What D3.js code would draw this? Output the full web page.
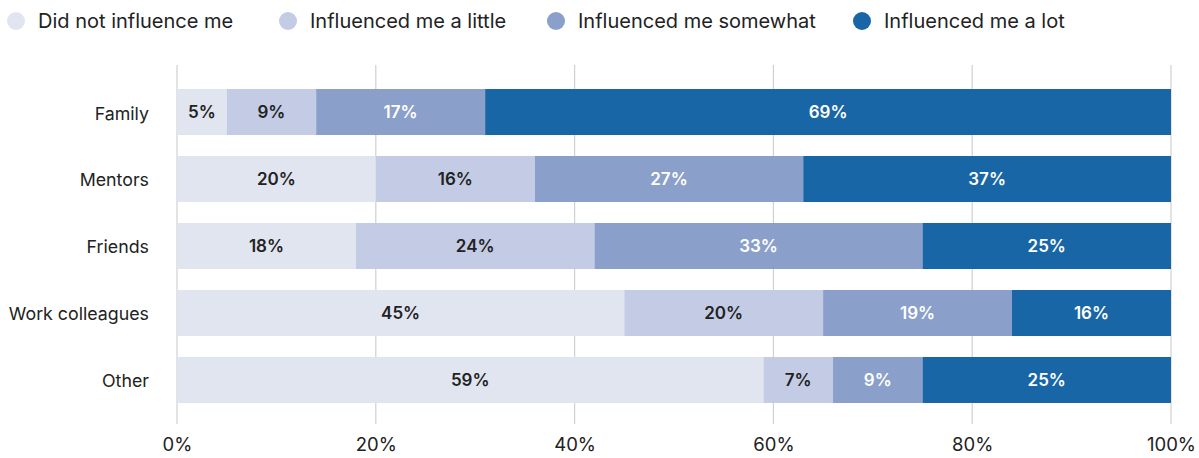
<!DOCTYPE html>
<html><head><meta charset="utf-8">
<script src="https://cdn.jsdelivr.net/npm/d3@7"></script>
<style>
body{margin:0;background:#fff;}
svg{display:block;font-family:Inter,"Noto Sans",sans-serif;}
</style></head>
<body><svg id="c" width="1199" height="458"></svg>
<script>
const categories = ["Family","Mentors","Friends","Work colleagues","Other"];
const seriesNames = ["Did not influence me","Influenced me a little","Influenced me somewhat","Influenced me a lot"];
const notInfluence = [5,20,18,45,59];
const aLittle = [9,16,24,20,7];
const somewhat = [17,27,33,19,9];
const aLot = [69,37,25,16,25];
const tickValues = [0,20,40,60,80,100];
const colors = ["#e1e5f0","#c3cce4","#8a9fc9","#1866a6"];
const textColors = ["#222","#222","#fff","#fff"];

const series = [notInfluence,aLittle,somewhat,aLot];
const rows = categories.map((c,i)=>{const o={cat:c}; seriesNames.forEach((s,j)=>o[s]=series[j][i]); return o;});
const stacked = d3.stack().keys(seriesNames)(rows);

const svg = d3.select("#c");
const x = d3.scaleLinear().domain([0,100]).range([177,1171]);
const y = d3.scaleBand().domain(categories).range([78.5,413.5]).paddingInner(0.3134).paddingOuter(0.157);

svg.append("g").selectAll("line").data(tickValues).join("line")
  .attr("x1",d=>x(d)).attr("x2",d=>x(d)).attr("y1",65).attr("y2",424)
  .attr("stroke","#d0d0d0").attr("stroke-width",1.2);

const xa = svg.append("g").attr("transform","translate(0,424)")
  .call(d3.axisBottom(x).tickValues(tickValues).tickFormat(d=>d+"%").tickSize(0).tickPadding(14));
xa.select(".domain").remove();
xa.selectAll("text").attr("font-size",18.5).attr("fill","#222").attr("font-family","Inter,sans-serif");

const ya = svg.append("g").attr("transform","translate(149,0)")
  .call(d3.axisLeft(y).tickSize(0).tickPadding(0));
ya.select(".domain").remove();
ya.selectAll("text").attr("font-size",17.8).attr("fill","#222").attr("dy","0.42em").attr("font-family","Inter,sans-serif");

const g = svg.append("g");
stacked.forEach((s,j)=>{
  const gg = g.append("g");
  gg.selectAll("rect").data(s).join("rect")
    .attr("x",d=>x(d[0])).attr("width",d=>x(d[1])-x(d[0]))
    .attr("y",d=>y(d.data.cat)).attr("height",y.bandwidth())
    .attr("fill",colors[j]);
  gg.selectAll("text").data(s).join("text")
    .attr("x",d=>(x(d[0])+x(d[1]))/2).attr("y",d=>y(d.data.cat)+y.bandwidth()/2)
    .attr("dy","0.38em").attr("text-anchor","middle")
    .attr("font-size",17).attr("font-weight",600).attr("fill",textColors[j])
    .text(d=>(d[1]-d[0])+"%");
});

const legX = [16,288,556,862];
const lg = svg.append("g");
seriesNames.forEach((s,j)=>{
  lg.append("circle").attr("cx",legX[j]).attr("cy",21).attr("r",9).attr("fill",colors[j]);
  lg.append("text").attr("x",legX[j]+22).attr("y",21).attr("dy","0.36em")
    .attr("font-size",20).attr("fill","#222").text(s);
});
</script></body></html>
